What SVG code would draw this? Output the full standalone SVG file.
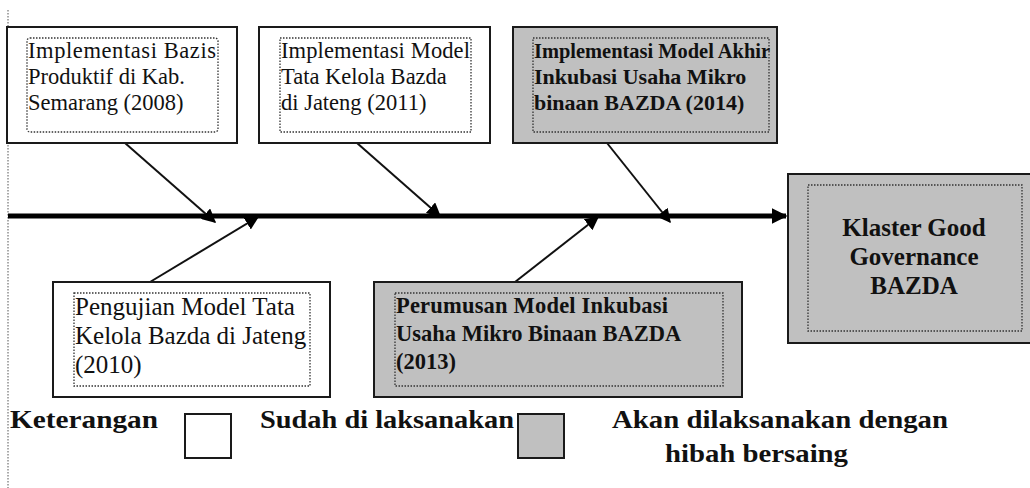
<svg xmlns="http://www.w3.org/2000/svg" width="1030" height="488" viewBox="0 0 1030 488">
<style>
.box{stroke:#1a1a1a;stroke-width:2}
.w{fill:#ffffff}
.g{fill:#c0c0c0}
.inner{fill:none;stroke:#333;stroke-width:1.3;stroke-dasharray:1.5 1.5}
.t{font-family:'Liberation Serif','Times New Roman',Tinos,serif;font-size:22.5px;fill:#111}
.tb{font-family:'Liberation Serif','Times New Roman',Tinos,serif;font-size:22px;font-weight:bold;fill:#111}
.leg{font-family:'Liberation Serif','Times New Roman',Tinos,serif;font-size:26px;font-weight:bold;fill:#111}
.con{stroke:#111;stroke-width:2;fill:none}
</style>
<defs>
<marker id="ah" viewBox="0 0 10 10" refX="9" refY="5" markerWidth="14" markerHeight="14" markerUnits="userSpaceOnUse" orient="auto">
<path d="M0,0 L10,5 L0,10 z" fill="#000"/>
</marker>
<marker id="big" viewBox="0 0 10 10" refX="9" refY="5" markerWidth="16" markerHeight="16" markerUnits="userSpaceOnUse" orient="auto">
<path d="M0,0 L10,5 L0,10 z" fill="#000"/>
</marker>
</defs>
<line x1="8" y1="10" x2="8" y2="488" stroke="#555" stroke-width="1" stroke-dasharray="1.5 1.5"/>
<g id="connectors">
<line x1="8" y1="216" x2="786" y2="216" stroke="#000" stroke-width="5" marker-end="url(#big)"/>
<line class="con" x1="125" y1="143" x2="215" y2="222" marker-end="url(#ah)"/>
<line class="con" x1="357" y1="143" x2="440" y2="216" marker-end="url(#ah)"/>
<line class="con" x1="607" y1="143" x2="670" y2="222" marker-end="url(#ah)"/>
<line class="con" x1="150" y1="282" x2="258" y2="217" marker-end="url(#ah)"/>
<line class="con" x1="515" y1="282" x2="598" y2="217" marker-end="url(#ah)"/>
</g>
<g id="node1">
<rect class="box w" x="7" y="27" width="230" height="116"/>
<rect class="inner" x="27" y="38" width="191" height="94" rx="3"/>
<text class="t" x="28" y="58" textLength="188" lengthAdjust="spacing">Implementasi Bazis</text>
<text class="t" x="28" y="84">Produktif di Kab.</text>
<text class="t" x="28" y="110">Semarang (2008)</text>
</g>
<g id="node2">
<rect class="box w" x="259" y="27" width="231" height="116"/>
<rect class="inner" x="280" y="38" width="191" height="94"/>
<text class="t" x="281" y="58" textLength="189" lengthAdjust="spacing">Implementasi Model</text>
<text class="t" x="281" y="84">Tata Kelola Bazda</text>
<text class="t" x="281" y="110">di Jateng (2011)</text>
</g>
<g id="node3">
<rect class="box g" x="513" y="27" width="264" height="116"/>
<rect class="inner" x="533" y="38" width="236" height="94"/>
<text class="tb" x="534" y="58" textLength="236" lengthAdjust="spacingAndGlyphs">Implementasi Model Akhir</text>
<text class="tb" x="534" y="84">Inkubasi Usaha Mikro</text>
<text class="tb" x="534" y="110">binaan BAZDA (2014)</text>
</g>
<g id="node4">
<rect class="box w" x="53" y="282" width="277" height="115"/>
<rect class="inner" x="74" y="293" width="236" height="93"/>
<text class="t" x="75" y="315" style="font-size:25px">Pengujian Model Tata</text>
<text class="t" x="75" y="344" style="font-size:25px">Kelola Bazda di Jateng</text>
<text class="t" x="75" y="373" style="font-size:25px">(2010)</text>
</g>
<g id="node5">
<rect class="box g" x="374" y="282" width="368" height="115"/>
<rect class="inner" x="395" y="293" width="328" height="93"/>
<text class="tb" x="396" y="313" textLength="272" lengthAdjust="spacing" style="font-size:22.5px">Perumusan Model Inkubasi</text>
<text class="tb" x="396" y="341" style="font-size:22.5px">Usaha Mikro Binaan BAZDA</text>
<text class="tb" x="396" y="369" style="font-size:22.5px">(2013)</text>
</g>
<g id="node6">
<rect class="box g" x="788" y="174" width="245" height="169"/>
<rect class="inner" x="808" y="185" width="214" height="146"/>
<text class="tb" x="914" y="236" text-anchor="middle" style="font-size:25px">Klaster Good</text>
<text class="tb" x="914" y="265" text-anchor="middle" style="font-size:25px">Governance</text>
<text class="tb" x="914" y="294" text-anchor="middle" style="font-size:25px">BAZDA</text>
</g>
<g id="legend">
<text class="leg" x="10" y="428" textLength="148" lengthAdjust="spacingAndGlyphs">Keterangan</text>
<rect class="box w" x="185" y="414" width="46" height="44"/>
<text class="leg" x="260" y="428" textLength="254" lengthAdjust="spacingAndGlyphs">Sudah di laksanakan</text>
<rect class="box g" x="518" y="414" width="46" height="44"/>
<text class="leg" x="612" y="428" textLength="336" lengthAdjust="spacingAndGlyphs">Akan dilaksanakan dengan</text>
<text class="leg" x="665" y="462" textLength="183" lengthAdjust="spacingAndGlyphs">hibah bersaing</text>
</g>
</svg>
